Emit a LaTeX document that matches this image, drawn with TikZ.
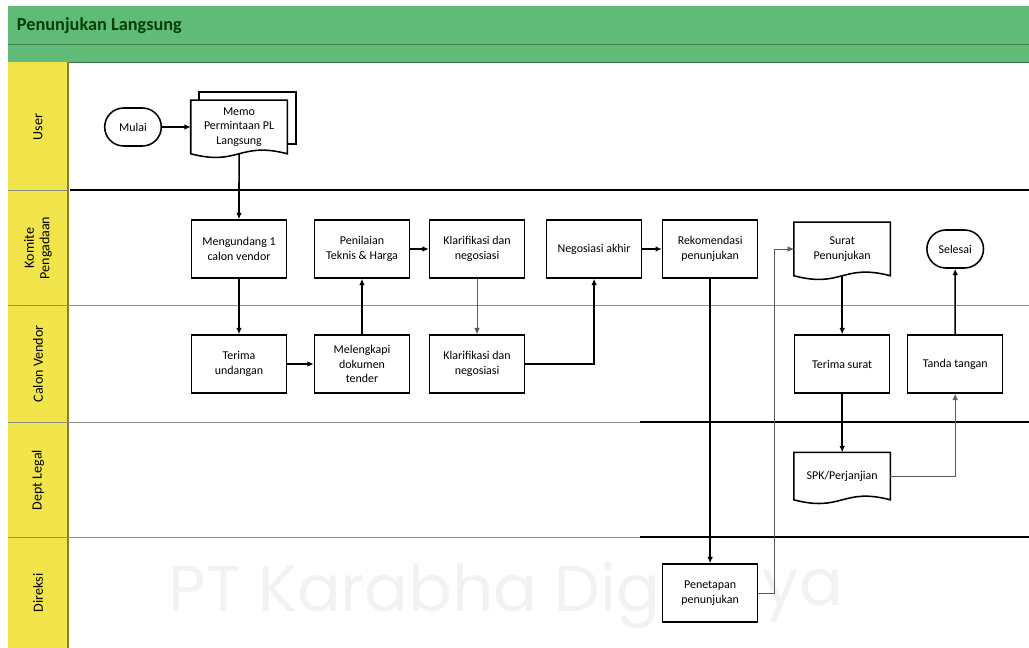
\documentclass[tikz,border=0pt]{standalone}
\usepackage{fontspec}
\setmainfont{Carlito}
\newfontfamily\wmfont{Poppins}
\usepackage{tikz}
\usetikzlibrary{positioning,arrows.meta,shapes.misc}

\definecolor{headgreen}{RGB}{96,186,120}
\definecolor{laneyellow}{RGB}{242,229,76}

% document symbol with wavy bottom, drawn round a node
\newcommand{\docshape}[1]{%
  \draw[line width=1.1pt] (#1.north west) -- (#1.north east) -- (#1.south east)
    .. controls ([yshift=9pt]#1.south) and ([yshift=-9pt]#1.south) .. (#1.south west) -- cycle;}

\begin{document}
\begin{tikzpicture}[x=0.025cm,y=-0.025cm,node distance=2.875cm,on grid,
    >={Latex[length=4.5pt,width=4pt]},
    box/.style={rectangle,draw,line width=1.1pt,fill=white,minimum width=2.375cm,
      minimum height=1.45cm,align=center,inner sep=1pt,font=\fontsize{8.5}{10.5}\selectfont},
    doc/.style={box,draw=none,fill=none,minimum height=1.3cm},
    term/.style={rounded rectangle,draw,line width=1.1pt,minimum width=1.65cm,
      minimum height=0.95cm,font=\fontsize{8.5}{10.5}\selectfont},
    lane/.style={rotate=90,align=center,font=\fontsize{10}{11}\selectfont},
    wm/.style={text=black!5,font=\wmfont\fontsize{46}{50}\selectfont,inner sep=0pt},
    flow/.style={->,line width=1.1pt},
    thinflow/.style={->,line width=0.6pt,black!65}]
    \useasboundingbox (0,0) rectangle (1029,648);
    % header and lane column
    \fill[headgreen] (8,6) rectangle (1029,62);
    \draw[headgreen!70!black] (8,44) -- (1029,44);
    \draw[headgreen!60!black] (8,62) -- (1029,62);
    \node[anchor=west,font=\fontsize{13}{15}\bfseries\selectfont,text=green!25!black] (judul) at (12,26) {Penunjukan Langsung};
    \fill[laneyellow] (8,62) rectangle (68,648);
    \draw[line width=1pt,laneyellow!55!black] (68,62) -- (68,648);
    % lane borders
    \draw[black!45] (8,190) -- (68,190);
    \draw[line width=1.2pt] (70,190) -- (1029,190);
    \draw[black!45] (8,305) -- (1029,305);
    \draw[black!45] (8,422) -- (1029,422);
    \draw[line width=1.2pt] (640,422) -- (1029,422);
    \draw[black!45] (8,537) -- (1029,537);
    \draw[line width=1.2pt] (640,537) -- (1029,537);
    \node[lane] (l_user)   at (38,127) {User};
    \node[lane] (l_komite) at (38,248) {Komite\\Pengadaan};
    \node[lane] (l_vendor) at (38,364) {Calon Vendor};
    \node[lane] (l_legal)  at (38,480) {Dept Legal};
    \node[lane] (l_dir)    at (38,593) {Direksi};

    % user
    \node[term] (mulai) at (133,127) {Mulai};
    \node[doc]  (memo)  [right=2.65cm of mulai] {};
    \draw[line width=1.1pt] ([xshift=6pt]memo.north west) |- ([xshift=6pt,yshift=6pt]memo.north east)
      |- ([yshift=-12pt]memo.east);
    \fill[white] (memo.north west) rectangle (memo.south east);
    \docshape{memo}
    \node[align=center,font=\fontsize{8.5}{10.5}\selectfont] (memotext) at (memo) {Memo\\Permintaan PL\\Langsung};
    % komite pengadaan
    \node[box] (undang) at (239,249) {Mengundang 1\\calon vendor};
    \node[box] (nilai)  [right=3.075cm of undang] {Penilaian\\Teknis \& Harga};
    \node[box] (klar1)  [right=2.875cm of nilai]  {Klarifikasi dan\\negosiasi};
    \node[box] (nego)   [right=2.925cm of klar1]  {Negosiasi akhir};
    \node[box] (rekom)  [right=2.9cm of nego]     {Rekomendasi\\penunjukan};
    \node[doc] (surat)  [right=3.3cm of rekom]    {Surat\\Penunjukan};
    \docshape{surat}
    % calon vendor
    \node[box] (terima)  [below=of undang] {Terima\\undangan};
    \node[box] (lengkap) [below=of nilai]  {Melengkapi\\dokumen\\tender};
    \node[box] (klar2)   [below=of klar1]  {Klarifikasi dan\\negosiasi};
    \node[box] (tsurat)  [below=2.875cm of surat] {Terima surat};
    \node[box] (ttd)     [right=2.825cm of tsurat] {Tanda tangan};
    \node[term] (selesai) [above=of ttd] {Selesai};
    % dept legal
    \node[doc,minimum height=1.15cm] (spk) [below=2.8cm of tsurat] {SPK/Perjanjian};
    \docshape{spk}
    % direksi
    \node[box] (tetap) [below=8.6cm of rekom] {Penetapan\\penunjukan};
    % watermark, split by the box
    \node[wm,anchor=east] (wm_kiri)  at ([xshift=-1pt,yshift=-2pt]tetap.west) {PT Karabha Dig};
    \node[wm,anchor=west] (wm_kanan) at ([xshift=3pt,yshift=-2pt]tetap.east) {ya};

    \draw[flow] (mulai) -- (memo);
    \draw[flow] (memo.south) -- (undang);
    \draw[flow] (undang) -- (terima);
    \draw[flow] (terima) -- (lengkap);
    \draw[flow] (lengkap) -- (nilai);
    \draw[flow] (nilai) -- (klar1);
    \draw[thinflow] (klar1) -- (klar2);
    \draw[flow] (klar2) -| (nego);
    \draw[flow] (nego) -- (rekom);
    \draw[flow] (rekom) -- (tetap);
    \draw[thinflow] (tetap.east) -- ++(0.4cm,0) |- (surat.west);
    \draw[flow] (surat.south) -- (tsurat);
    \draw[flow] (tsurat) -- (spk);
    \draw[thinflow] (spk.east) -| (ttd.south);
    \draw[flow] (ttd) -- (selesai);
\end{tikzpicture}
\end{document}
